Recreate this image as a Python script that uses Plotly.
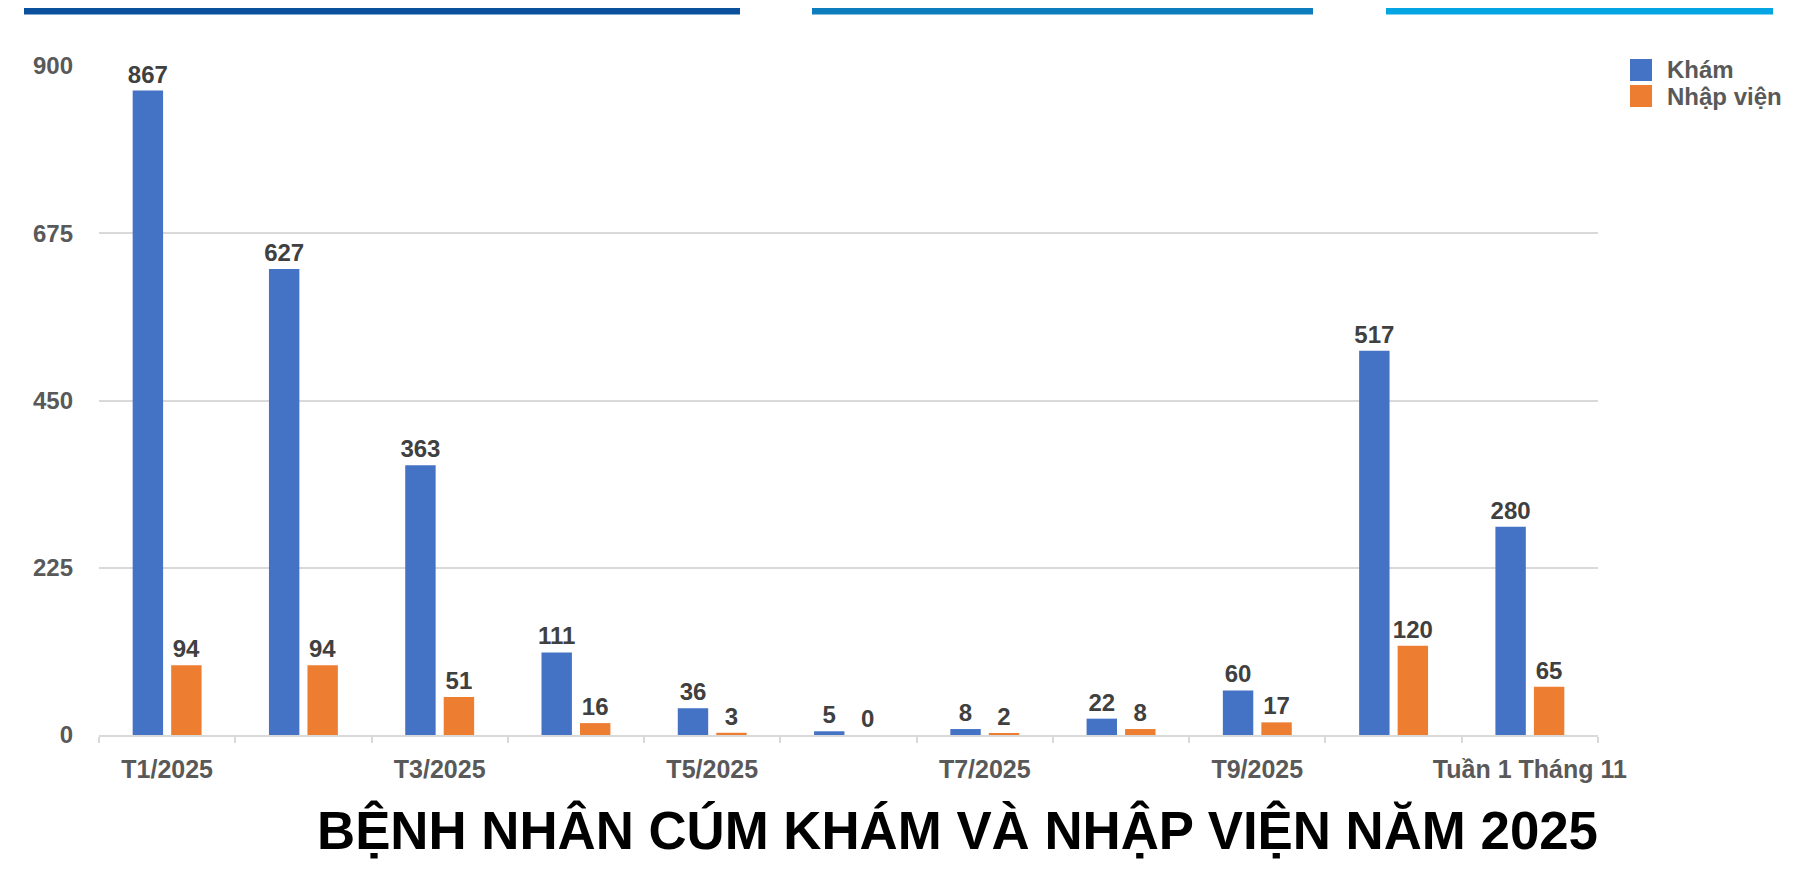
import plotly.graph_objects as go

categories = ["T1/2025", "T2/2025", "T3/2025", "T4/2025", "T5/2025", "T6/2025",
              "T7/2025", "T8/2025", "T9/2025", "T10/2025", "Tuần 1 Tháng 11"]
tick_labels = ["T1/2025", "", "T3/2025", "", "T5/2025", "", "T7/2025", "",
               "T9/2025", "", "Tuần 1 Tháng 11"]
kham = [867, 627, 363, 111, 36, 5, 8, 22, 60, 517, 280]
nhap_vien = [94, 94, 51, 16, 3, 0, 2, 8, 17, 120, 65]
y_ticks = [0, 225, 450, 675, 900]
series_names = ["Khám", "Nhập viện"]
series_colors = ["#4472C4", "#ED7D31"]
title_text = "BỆNH NHÂN CÚM KHÁM VÀ NHẬP VIỆN NĂM 2025"

FONT = "Liberation Sans, Arial, sans-serif"
OFF = 8  # page body margin
W, H = 1810 - OFF, 882 - 2 * OFF
# plot area in page coordinates: x 99..1598, y 66..735
ML = 99 - OFF
MR = W - (1598 - OFF)
MT = 66 - OFF
MB = H - (735 - OFF)
PW, PH = W - ML - MR, H - MT - MB


def px_x(x):
    return (x - OFF - ML) / PW


def px_y(y):
    return (H - MB - (y - OFF)) / PH


fig = go.Figure()
for name, vals, col in zip(series_names, [kham, nhap_vien], series_colors):
    fig.add_trace(go.Bar(
        x=categories, y=vals, name=name, marker=dict(color=col, line=dict(width=0)),
        text=[str(v) for v in vals], textposition="outside", constraintext="none",
        textfont=dict(family=FONT, size=24, color="#404040", weight="bold"),
        cliponaxis=False, showlegend=False,
    ))

fig.update_layout(
    width=W, height=H,
    margin=dict(l=ML, r=MR, t=MT, b=MB),
    paper_bgcolor="white", plot_bgcolor="white",
    barmode="group", bargap=0.435, bargroupgap=0.21,
    showlegend=False,
    font=dict(family=FONT),
    xaxis=dict(
        type="category", categoryorder="array", categoryarray=categories,
        tickmode="array", tickvals=categories, ticktext=tick_labels, tickangle=0,
        tickfont=dict(family=FONT, size=25, color="#595959", weight="bold"),
        showline=True, linecolor="#D9D9D9", linewidth=2,
        ticks="outside", tickson="boundaries", ticklen=6, tickcolor="#D9D9D9", tickwidth=2,
        ticklabelstandoff=11, showgrid=False, automargin=False,
    ),
    yaxis=dict(
        range=[0, 900], tickmode="array", tickvals=y_ticks,
        tickfont=dict(family=FONT, size=24, color="#595959", weight="bold"),
        showgrid=True, gridcolor="#D9D9D9", gridwidth=2, zeroline=False,
        ticks="", ticklabelstandoff=25, showline=False, automargin=False,
    ),
)

# decorative top bands (page coordinates)
bands = [(24, 740, "#0A509C"), (812, 1313, "#0E7DBD"), (1386, 1773, "#05A4E2")]
for x0, x1, c in bands:
    fig.add_shape(type="rect", xref="paper", yref="paper",
                  x0=px_x(x0), x1=px_x(x1), y0=px_y(14.5), y1=px_y(7),
                  fillcolor=c, line=dict(width=0))

# manual legend
for i, (name, col) in enumerate(zip(series_names, series_colors)):
    top = 59 + i * 26
    fig.add_shape(type="rect", xref="paper", yref="paper",
                  x0=px_x(1630), x1=px_x(1652), y0=px_y(top + 22), y1=px_y(top),
                  fillcolor=col, line=dict(width=0))
    fig.add_annotation(xref="paper", yref="paper", x=px_x(1665), y=px_y(top + 11),
                       xanchor="left", yanchor="middle", text=name, showarrow=False,
                       font=dict(family=FONT, size=24, color="#595959", weight="bold"))

fig.add_annotation(xref="paper", yref="paper", x=px_x(1600), y=px_y(830),
                   xanchor="right", yanchor="middle", text=title_text, showarrow=False,
                   font=dict(family=FONT, size=52.8, color="#000000", weight="bold"))

fig.write_html("out.html")
